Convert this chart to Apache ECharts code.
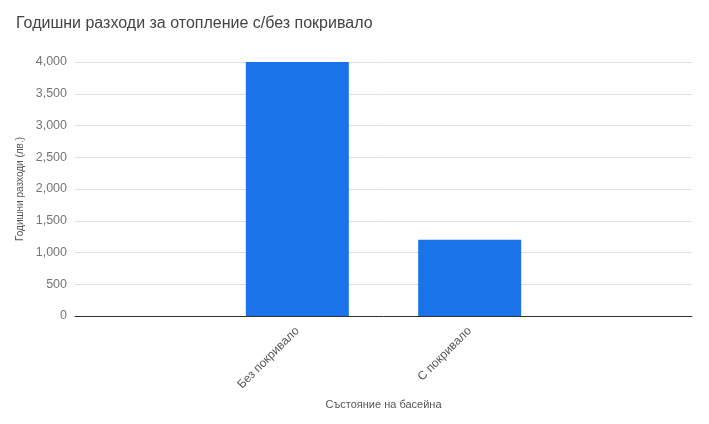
<!DOCTYPE html>
<html>
<head>
<meta charset="utf-8">
<script src="https://cdn.jsdelivr.net/npm/echarts@6/dist/echarts.min.js"></script>
<style>
  html, body { margin: 0; padding: 0; background: #fff; }
  #chart { width: 709px; height: 424px; }
</style>
</head>
<body>
<div id="chart"></div>
<script>
var categories = ['Без покривало', 'С покривало'];
var costs = [4000, 1200];
var yTicks = [0, 500, 1000, 1500, 2000, 2500, 3000, 3500, 4000];

(function() {
  'use strict';

  var chart = echarts.init(document.getElementById('chart'), null, { renderer: 'canvas' });

  // bars sit on a numeric x scale so the empty space either side matches
  var barData = costs.map(function(v, i) { return [i, v]; });

  chart.setOption({
    animation: false,
    textStyle: { fontFamily: 'Arial, Liberation Sans, sans-serif' },
    title: {
      text: 'Годишни разходи за отопление с/без покривало',
      left: 11, top: 11,
      textStyle: { fontSize: 16, fontWeight: 'normal', color: '#444', fontFamily: 'Arial, Liberation Sans, sans-serif' }
    },
    grid: { left: 75, right: 17, top: 62, bottom: 108 },
    xAxis: {
      type: 'value',
      min: -1.29, max: 2.29,
      name: 'Състояние на басейна',
      nameLocation: 'middle',
      nameGap: 83,
      nameTextStyle: { color: '#555', fontSize: 11 },
      axisLine: { show: true, lineStyle: { color: '#333', width: 1 } },
      axisTick: { show: false },
      splitLine: { show: false },
      axisLabel: {
        customValues: [0, 1],
        rotate: 45,
        color: '#555',
        fontSize: 12,
        margin: 13,
        formatter: function(v) { return categories[Math.round(v)] || ''; }
      }
    },
    yAxis: {
      type: 'value',
      min: 0, max: yTicks[yTicks.length - 1], interval: 500,
      name: 'Годишни разходи (лв.)',
      nameLocation: 'middle',
      nameGap: 48,
      nameTextStyle: { color: '#555', fontSize: 10 },
      axisLine: { show: false },
      axisTick: { show: false },
      axisLabel: {
        color: '#757575', fontSize: 12.5, margin: 8,
        formatter: function(v) { return v.toLocaleString('en-US'); }
      },
      splitLine: { lineStyle: { color: '#e0e0e0' } }
    },
    series: [{
      type: 'bar',
      data: barData,
      barWidth: 103,
      itemStyle: { color: '#1a73e8' }
    }]
  });
})();
</script>
</body>
</html>
